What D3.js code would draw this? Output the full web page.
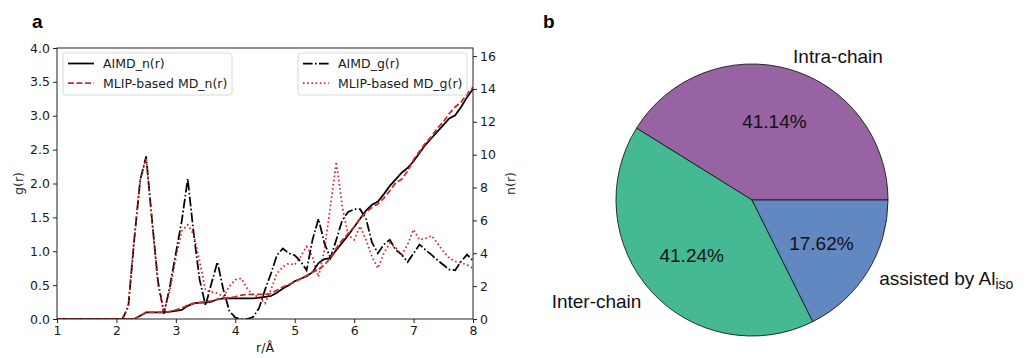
<!DOCTYPE html>
<html>
<head>
<meta charset="utf-8">
<script src="https://cdn.jsdelivr.net/npm/d3@7"></script>
<style>
    body { margin: 0; background: #ffffff; }
    svg { display: block; }
    .tick-label { font-family: "DejaVu Sans", sans-serif; font-size: 12.5px; fill: #1a1a1a; }
    .legend-label { font-family: "DejaVu Sans", sans-serif; font-size: 12.5px; fill: #1a1a1a; }
    .pie-label { font-family: "Liberation Sans", Arial, sans-serif; font-size: 19px; fill: #111111; }
    .panel-label { font-family: "Liberation Sans", Arial, sans-serif; font-size: 19px; font-weight: bold; fill: #000000; }
</style>
</head>
<body>
<svg id="figure" width="1026" height="358"></svg>
<script>
// Radial positions (r / angstrom) shared by all four curves.
var radius = [1.0, 1.1, 1.2, 1.3, 1.4, 1.5, 1.6, 1.7, 1.8, 1.9,
    2.0, 2.1, 2.2, 2.3, 2.4, 2.5, 2.6, 2.7, 2.8, 2.9,
    3.0, 3.1, 3.2, 3.3, 3.4, 3.5, 3.6, 3.7, 3.8, 3.9,
    4.0, 4.1, 4.2, 4.3, 4.4, 4.5, 4.6, 4.7, 4.8, 4.9,
    5.0, 5.1, 5.2, 5.3, 5.4, 5.5, 5.6, 5.7, 5.8, 5.9,
    6.0, 6.1, 6.2, 6.3, 6.4, 6.5, 6.6, 6.7, 6.8, 6.9,
    7.0, 7.1, 7.2, 7.3, 7.4, 7.5, 7.6, 7.7, 7.8, 7.9, 8.0];

// Radial distribution g(r), left axis.
var aimdG = [0, 0, 0, 0, 0, 0, 0, 0, 0, 0,
    0, 0, 0.18, 1.17, 2.05, 2.4, 1.45, 0.55, 0.08, 0.48,
    0.97, 1.45, 2.07, 1.26, 0.58, 0.2, 0.53, 0.84, 0.43, 0.12,
    0.02, 0, 0, 0.03, 0.16, 0.43, 0.67, 0.94, 1.04, 0.97,
    0.94, 0.85, 0.72, 1.17, 1.48, 1.12, 0.9, 1.17, 1.46, 1.58,
    1.62, 1.62, 1.48, 1.13, 0.97, 1.1, 1.17, 1.02, 0.95, 0.84,
    0.97, 1.1, 1.02, 0.95, 0.87, 0.8, 0.73, 0.72, 0.85, 0.95, 0.86];
var mlipG = [0, 0, 0, 0, 0, 0, 0, 0, 0, 0,
    0, 0, 0.2, 1.2, 2.05, 2.38, 1.45, 0.5, 0.11, 0.42,
    0.9, 1.3, 1.39, 1.25, 0.85, 0.42, 0.4, 0.38, 0.33, 0.48,
    0.58, 0.6, 0.45, 0.35, 0.33, 0.23, 0.43, 0.67, 0.77, 0.82,
    0.8, 0.92, 1.07, 0.92, 0.62, 1.02, 1.66, 2.32, 1.66, 1.24,
    1.17, 1.37, 1.17, 0.92, 0.75, 0.97, 1.12, 1.05, 0.95, 1.1,
    1.32, 1.17, 1.19, 1.23, 1.12, 1.0, 0.9, 0.85, 0.83, 0.8, 0.75];

// Coordination number n(r), right axis.
var aimdN = [0, 0, 0, 0, 0, 0, 0, 0, 0, 0,
    0, 0, 0, 0, 0.2, 0.4, 0.4, 0.4, 0.4, 0.45,
    0.5, 0.55, 0.8, 0.95, 1.0, 1.0, 1.05, 1.2, 1.25, 1.25,
    1.25, 1.25, 1.25, 1.25, 1.3, 1.35, 1.4, 1.6, 1.85, 2.05,
    2.3, 2.45, 2.6, 2.85, 3.4, 3.65, 3.7, 4.2, 4.65, 5.1,
    5.6, 6.1, 6.6, 6.95, 7.15, 7.6, 8.1, 8.5, 8.9, 9.2,
    9.6, 10.1, 10.6, 11.0, 11.4, 11.8, 12.2, 12.4, 12.9, 13.5, 14.0];
var mlipN = [0, 0, 0, 0, 0, 0, 0, 0, 0, 0,
    0, 0, 0, 0, 0.2, 0.4, 0.4, 0.4, 0.4, 0.45,
    0.55, 0.65, 0.85, 0.95, 1.0, 1.05, 1.1, 1.2, 1.25, 1.3,
    1.35, 1.45, 1.5, 1.5, 1.5, 1.5, 1.55, 1.75, 1.95, 2.1,
    2.25, 2.45, 2.65, 2.85, 3.0, 3.3, 3.7, 4.3, 4.8, 5.2,
    5.6, 6.1, 6.5, 6.8, 7.0, 7.35, 7.8, 8.3, 8.5, 9.0,
    9.7, 10.2, 10.7, 11.1, 11.6, 12.0, 12.5, 12.9, 13.2, 13.7, 14.1];

// Tick values of the three axes.
var xTicks = [1, 2, 3, 4, 5, 6, 7, 8];
var gTicks = [0, 0.5, 1.0, 1.5, 2.0, 2.5, 3.0, 3.5, 4.0];
var nTicks = [0, 2, 4, 6, 8, 10, 12, 14, 16];

// Pie of panel b.
var pieCategories = ["Intra-chain", "Inter-chain", "assisted by Al"];
var pieShares = [41.14, 41.24, 17.62];
var pieColors = ["#9863a3", "#44b994", "#6188c0"];

class FigureView {
    constructor(svgSelector) {
        var self = this;
        self.svg = d3.select(svgSelector);
        self.left = 57;
        self.right = 473;
        self.top = 48;
        self.bottom = 319;
        self.lineWidth = 1.75;
    }

    draw() {
        var self = this;
        self.createScales();
        self.createLines();
        self.createAxes();
        self.createLegends();
        self.createPie();
        self.createPanelLabels();
    }

    createScales() {
        var self = this;
        self.xScale = d3.scaleLinear().domain([1, 8]).range([self.left, self.right]);
        self.gScale = d3.scaleLinear().domain([0, 4]).range([self.bottom, self.top]);
        self.nScale = d3.scaleLinear().domain([0, 16.49]).range([self.bottom, self.top]);
    }

    createLines() {
        var self = this;
        self.svg.append("clipPath")
            .attr("id", "plot-clip")
            .append("rect")
            .attr("x", self.left)
            .attr("y", self.top)
            .attr("width", self.right - self.left)
            .attr("height", self.bottom - self.top);
        var plot = self.svg.append("g").attr("clip-path", "url(#plot-clip)");
        var lw = self.lineWidth;
        // g(r) curves sit on the main axis, n(r) curves on the twin axis above them.
        var series = [
            {values: aimdG, scale: self.gScale, color: "#000000", dash: [9.6, 2.4, 1.6, 2.4]},
            {values: mlipG, scale: self.gScale, color: "#d62728", dash: [1.6, 2.6]},
            {values: aimdN, scale: self.nScale, color: "#000000", dash: null},
            {values: mlipN, scale: self.nScale, color: "#d62728", dash: [5.9, 2.6]}
        ];
        series.forEach(function (s) {
            var line = d3.line()
                .x(function (d, i) { return self.xScale(radius[i]); })
                .y(function (d) { return s.scale(d); });
            plot.append("path")
                .datum(s.values)
                .attr("d", line)
                .attr("fill", "none")
                .attr("stroke", s.color)
                .attr("stroke-width", lw)
                .attr("stroke-dasharray", s.dash ? s.dash.join(",") : null);
        });
    }

    createAxes() {
        var self = this;
        var xAxis = d3.axisBottom(self.xScale).tickValues(xTicks).tickSize(4).tickPadding(3)
            .tickFormat(d3.format("d"));
        var gAxis = d3.axisLeft(self.gScale).tickValues(gTicks).tickSize(4).tickPadding(3)
            .tickFormat(d3.format(".1f"));
        var nAxis = d3.axisRight(self.nScale).tickValues(nTicks).tickSize(4).tickPadding(3)
            .tickFormat(d3.format("d"));
        var groups = [
            self.svg.append("g").attr("transform", "translate(0," + self.bottom + ")").call(xAxis),
            self.svg.append("g").attr("transform", "translate(" + self.left + ",0)").call(gAxis),
            self.svg.append("g").attr("transform", "translate(" + self.right + ",0)").call(nAxis)
        ];
        groups.forEach(function (g) {
            g.select(".domain").remove();
            g.selectAll(".tick line").attr("stroke", "#222").attr("stroke-width", 1);
            g.selectAll(".tick text").attr("class", "tick-label").attr("font-size", null)
                .attr("font-family", null);
            g.attr("font-size", null).attr("font-family", null);
        });
        // Frame of the axes.
        self.svg.append("rect")
            .attr("x", self.left)
            .attr("y", self.top)
            .attr("width", self.right - self.left)
            .attr("height", self.bottom - self.top)
            .attr("fill", "none")
            .attr("stroke", "#222")
            .attr("stroke-width", 1);
        // Axis titles.
        self.svg.append("text")
            .attr("class", "tick-label")
            .attr("x", (self.left + self.right) / 2)
            .attr("y", 352)
            .attr("text-anchor", "middle")
            .text("r/Å");
        self.svg.append("text")
            .attr("class", "tick-label")
            .attr("transform", "translate(23," + ((self.top + self.bottom) / 2) + ") rotate(-90)")
            .attr("text-anchor", "middle")
            .text("g(r)");
        self.svg.append("text")
            .attr("class", "tick-label")
            .attr("transform", "translate(515," + ((self.top + self.bottom) / 2) + ") rotate(-90)")
            .attr("text-anchor", "middle")
            .text("n(r)");
    }

    createLegends() {
        var self = this;
        var lw = self.lineWidth;
        var legends = [
            {x: 63, entries: [
                {label: "AIMD_n(r)", color: "#000000", dash: null},
                {label: "MLIP-based MD_n(r)", color: "#d62728", dash: [5.9, 2.6]}
            ]},
            {x: 298, entries: [
                {label: "AIMD_g(r)", color: "#000000", dash: [9.6, 2.4, 1.6, 2.4]},
                {label: "MLIP-based MD_g(r)", color: "#d62728", dash: [1.6, 2.6]}
            ]}
        ];
        legends.forEach(function (legend) {
            var g = self.svg.append("g").attr("transform", "translate(" + legend.x + ",53)");
            g.append("rect")
                .attr("x", 0)
                .attr("y", 0)
                .attr("width", 169)
                .attr("height", 42)
                .attr("rx", 2.5)
                .attr("fill", "#ffffff")
                .attr("fill-opacity", 0.8)
                .attr("stroke", "#d4d4d4")
                .attr("stroke-width", 0.9);
            legend.entries.forEach(function (entry, i) {
                var y = 10.5 + i * 19.5;
                g.append("line")
                    .attr("x1", 5)
                    .attr("x2", 31)
                    .attr("y1", y)
                    .attr("y2", y)
                    .attr("stroke", entry.color)
                    .attr("stroke-width", lw)
                    .attr("stroke-dasharray", entry.dash ? entry.dash.join(",") : null);
                g.append("text")
                    .attr("class", "legend-label")
                    .attr("x", 40)
                    .attr("y", y)
                    .attr("dy", "0.36em")
                    .text(entry.label);
            });
        });
    }

    createPie() {
        var self = this;
        var cx = 752;
        var cy = 200;
        var r = 136;
        // Matplotlib starts at 3 o'clock and runs counterclockwise.
        var pie = d3.pie()
            .sort(null)
            .startAngle(Math.PI / 2)
            .endAngle(Math.PI / 2 - 2 * Math.PI)
            .value(function (d) { return d; });
        var arcs = pie(pieShares);
        var arc = d3.arc().innerRadius(0).outerRadius(r);
        var pctArc = d3.arc().innerRadius(r * 0.6).outerRadius(r * 0.6);
        var labelArc = d3.arc().innerRadius(r * 1.1).outerRadius(r * 1.1);
        var g = self.svg.append("g").attr("transform", "translate(" + cx + "," + cy + ")");
        g.selectAll("path.slice")
            .data(arcs)
            .enter()
            .append("path")
            .attr("class", "slice")
            .attr("d", arc)
            .attr("fill", function (d, i) { return pieColors[i]; })
            .attr("stroke", "#1a1a1a")
            .attr("stroke-width", 0.9);
        g.selectAll("text.pct")
            .data(arcs)
            .enter()
            .append("text")
            .attr("class", "pie-label pct")
            .attr("x", function (d) { return pctArc.centroid(d)[0]; })
            .attr("y", function (d) { return pctArc.centroid(d)[1]; })
            .attr("dy", "0.36em")
            .attr("text-anchor", "middle")
            .text(function (d) { return d.data.toFixed(2) + "%"; });
        var labels = g.selectAll("text.cat")
            .data(arcs)
            .enter()
            .append("text")
            .attr("class", "pie-label cat")
            .attr("x", function (d) { return labelArc.centroid(d)[0]; })
            .attr("y", function (d) { return labelArc.centroid(d)[1]; })
            .attr("dy", "0.36em")
            .attr("text-anchor", function (d) {
                return labelArc.centroid(d)[0] > 0 ? "start" : "end";
            })
            .text(function (d, i) { return pieCategories[i]; });
        // Subscript of the aluminium label.
        labels.filter(function (d, i) { return i == 2; })
            .append("tspan")
            .attr("font-size", "14px")
            .attr("dy", "0.25em")
            .text("iso");
    }

    createPanelLabels() {
        var self = this;
        self.svg.append("text").attr("class", "panel-label").attr("x", 32).attr("y", 28).text("a");
        self.svg.append("text").attr("class", "panel-label").attr("x", 543).attr("y", 28).text("b");
    }
}

var figure = new FigureView("#figure");
figure.draw();
</script>
</body>
</html>
